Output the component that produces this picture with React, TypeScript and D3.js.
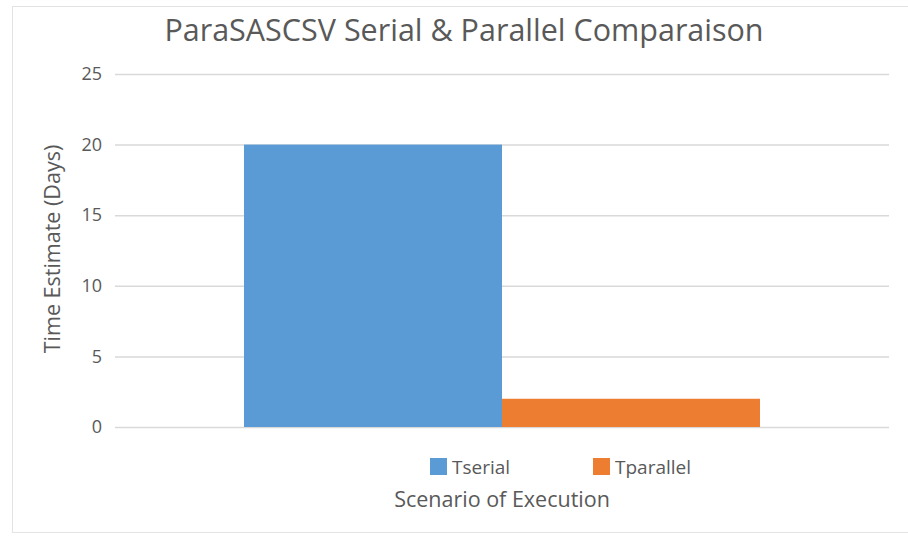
import { useEffect, useRef } from 'react';
import * as d3 from 'd3';

const categories = ['Scenario'];
const seriesNames = ['Tserial', 'Tparallel'];
const tserial = [20];
const tparallel = [2];
const yTicks = [0, 5, 10, 15, 20, 25];
const colors = ['#5B9BD5', '#ED7D31'];

const W = 908;
const H = 542;
const FONT = '"Open Sans", sans-serif';

const App = () => {
  const svgRef = useRef<SVGSVGElement>(null);

  useEffect(() => {
    const svg = d3.select(svgRef.current);
    svg.selectAll('*').remove();

    const margin = { top: 74, right: 19, bottom: 115, left: 115 };
    const width = W - margin.left - margin.right;
    const height = H - margin.top - margin.bottom;

    // chart frame
    svg.append('rect')
      .attr('x', 12.5).attr('y', 6.5)
      .attr('width', 905).attr('height', 526)
      .attr('fill', '#fff').attr('stroke', '#e3e3e3');

    svg.append('text')
      .attr('x', 464).attr('y', 41)
      .attr('text-anchor', 'middle')
      .attr('font-family', FONT).attr('font-size', 30.5)
      .attr('fill', '#595959')
      .text('ParaSASCSV Serial & Parallel Comparaison');

    const g = svg.append('g').attr('transform', `translate(${margin.left},${margin.top})`);

    const x0 = d3.scaleBand().domain(categories).range([0, width]).paddingInner(0).paddingOuter(0.25);
    const x1 = d3.scaleBand().domain(seriesNames).range([0, x0.bandwidth()]);
    const y = d3.scaleLinear().domain([0, 25]).range([height, 0]);

    g.append('g')
      .call(d3.axisLeft(y).tickValues(yTicks).tickSize(-width).tickPadding(13))
      .call((a) => a.select('.domain').remove())
      .call((a) => a.selectAll('.tick line').attr('stroke', '#d9d9d9').attr('stroke-width', 1.5))
      .call((a) => a.selectAll('.tick text')
        .attr('font-family', FONT).attr('font-size', 18).attr('fill', '#595959'));

    const rows = categories.map((c, i) => ({ c, values: [tserial[i], tparallel[i]] }));

    g.selectAll('.grp')
      .data(rows)
      .enter()
      .append('g')
      .attr('transform', (d) => `translate(${x0(d.c)!},0)`)
      .selectAll('rect')
      .data((d) => d.values.map((v, j) => ({ name: seriesNames[j], v, j })))
      .enter()
      .append('rect')
      .attr('x', (d) => x1(d.name)!)
      .attr('y', (d) => y(d.v))
      .attr('width', x1.bandwidth())
      .attr('height', (d) => height - y(d.v))
      .attr('fill', (d) => colors[d.j]);

    // y axis title
    svg.append('text')
      .attr('transform', 'translate(60,249) rotate(-90)')
      .attr('text-anchor', 'middle')
      .attr('font-family', FONT).attr('font-size', 21.5)
      .attr('fill', '#595959')
      .text('Time Estimate (Days)');

    // legend
    const legendX = [430, 593];
    seriesNames.forEach((n, i) => {
      svg.append('rect')
        .attr('x', legendX[i]).attr('y', 458)
        .attr('width', 17).attr('height', 17)
        .attr('fill', colors[i]);
      svg.append('text')
        .attr('x', legendX[i] + 22).attr('y', 474)
        .attr('font-family', FONT).attr('font-size', 19)
        .attr('fill', '#595959')
        .text(n);
    });

    svg.append('text')
      .attr('x', 502).attr('y', 507)
      .attr('text-anchor', 'middle')
      .attr('font-family', FONT).attr('font-size', 21.5)
      .attr('fill', '#595959')
      .text('Scenario of Execution');
  }, []);

  return (
    <svg
      ref={svgRef}
      width={W}
      height={H}
      style={{ position: 'absolute', left: 0, top: 0, background: '#fff' }}
    />
  );
};

export default App;
